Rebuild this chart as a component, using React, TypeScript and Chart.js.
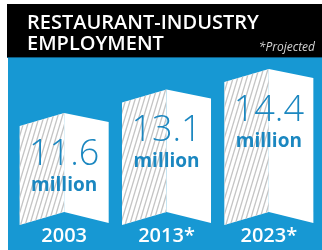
import React, { useEffect, useRef } from "react";
import { Chart, registerables } from "chart.js";

Chart.register(...registerables);

const years = ["2003", "2013*", "2023*"];
const employment = [11.6, 13.1, 14.4];
const unitLabel = "million";
const titleLines = ["RESTAURANT-INDUSTRY", "EMPLOYMENT"];
const footnote = "*Projected";
const axisMin = 5.3;
const axisMax = 15.1;

const BLUE = "#1798d3";
const NUM_BLUE = "#1b87c0";
const FONT = "'Open Sans', 'DejaVu Sans', sans-serif";

const foldPlugin = {
  id: "foldBars",
  beforeDraw(chart: any) {
    const { ctx, width, height } = chart;
    ctx.save();
    ctx.fillStyle = "#ffffff";
    ctx.fillRect(0, 0, width, height);
    ctx.fillStyle = BLUE;
    ctx.fillRect(8, 57, width - 8, height - 57);
    ctx.fillStyle = "#000000";
    ctx.fillRect(7, 4, width - 7, 53);
    ctx.fillStyle = "#0e5c82";
    ctx.fillRect(7, 57, width - 7, 1);
    ctx.fillStyle = "#ffffff";
    ctx.font = `600 20px ${FONT}`;
    ctx.textAlign = "left";
    ctx.textBaseline = "alphabetic";
    ctx.fillText(titleLines[0], 27, 29);
    ctx.fillText(titleLines[1], 27, 50);
    ctx.font = `italic 12px ${FONT}`;
    ctx.fillStyle = "#d4d4d4";
    ctx.textAlign = "right";
    ctx.fillText(footnote, 315, 51);
    ctx.restore();
  },
  afterDatasetsDraw(chart: any) {
    const ctx = chart.ctx;
    const meta = chart.getDatasetMeta(0);
    const labels = chart.data.labels as string[];
    meta.data.forEach((bar: any, i: number) => {
      const { x, y, base, width } = bar.getProps(["x", "y", "base", "width"], true);
      const l = x - width / 2;
      const r = x + width / 2;
      ctx.save();
      // left hatched panel
      ctx.beginPath();
      ctx.moveTo(l, y + 13);
      ctx.lineTo(x, y);
      ctx.lineTo(x, base);
      ctx.lineTo(l, base + 13);
      ctx.closePath();
      ctx.fillStyle = "#ffffff";
      ctx.fill();
      ctx.save();
      ctx.clip();
      ctx.strokeStyle = "#c4c4c4";
      ctx.lineWidth = 1.3;
      const top = y - 5;
      const bot = base + 20;
      const slope = 0.3;
      for (let s = l - (bot - top) * slope - 10; s < x + 10; s += 4.6) {
        ctx.beginPath();
        ctx.moveTo(s, bot);
        ctx.lineTo(s + (bot - top) * slope, top);
        ctx.stroke();
      }
      ctx.restore();
      // right white panel
      ctx.beginPath();
      ctx.moveTo(x, y);
      ctx.lineTo(r, y + 9);
      ctx.lineTo(r, base + 11);
      ctx.lineTo(x, base);
      ctx.closePath();
      ctx.fillStyle = "#ffffff";
      ctx.fill();
      // texts
      const v = chart.data.datasets[0].data[i] as number;
      ctx.fillStyle = NUM_BLUE;
      ctx.textAlign = "center";
      ctx.textBaseline = "alphabetic";
      ctx.font = `300 36px ${FONT}`;
      ctx.fillText(v.toFixed(1), x, y + 52);
      ctx.font = `bold 19px ${FONT}`;
      ctx.fillText(unitLabel, x, y + 78);
      // category label
      ctx.fillStyle = "#ffffff";
      ctx.font = `600 20px ${FONT}`;
      ctx.fillText(labels[i], x, base + 30);
      ctx.restore();
    });
  },
};

export default function App() {
  const ref = useRef<HTMLCanvasElement | null>(null);
  useEffect(() => {
    document.body.style.margin = "0";
    const canvas = ref.current!;
    const chart = new Chart(canvas, {
      type: "bar",
      data: {
        labels: years,
        datasets: [
          {
            data: employment,
            base: axisMin,
            backgroundColor: "rgba(0,0,0,0)",
            borderWidth: 0,
            categoryPercentage: 1,
            barPercentage: 0.87,
          },
        ],
      },
      options: {
        responsive: false,
        animation: false,
        layout: { padding: { left: 13, right: 2, top: 58, bottom: 38 } },
        plugins: { legend: { display: false }, tooltip: { enabled: false }, title: { display: false } },
        scales: {
          x: { display: false },
          y: { display: false, min: axisMin, max: axisMax },
        },
      },
      plugins: [foldPlugin],
    });
    return () => chart.destroy();
  }, []);
  return <canvas ref={ref} width={322} height={250} style={{ display: "block" }} />;
}
